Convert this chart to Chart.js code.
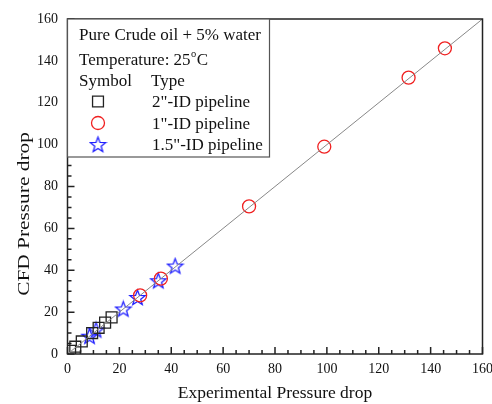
<!DOCTYPE html>
<html>
<head>
<meta charset="utf-8">
<script src="https://cdn.jsdelivr.net/npm/chart.js@4"></script>
<style>
  body { margin: 0; background: #fff; }
</style>
</head>
<body>
<canvas id="graficoPressao" width="492" height="404"></canvas>
<script>
// experimental vs CFD pressure drop, one pair of arrays per pipeline
const exp2in = [1, 3, 5.5, 9.5, 12, 14.5, 17];
const cfd2in = [1.5, 3.5, 6, 10, 12.5, 15, 17.5];
const exp1in = [28, 36, 70, 99, 131.5, 145.5];
const cfd1in = [28, 36, 70.5, 99, 132, 146];
const exp15in = [8.5, 11, 21.5, 27, 35, 41.5];
const cfd15in = [8.5, 11.5, 21.5, 27, 35, 42];
const linhaIgual = [0, 160];
const eixoMin = 0, eixoMax = 160, passoMaior = 20, passoMenor = 5;

const fonte = 'Liberation Serif, Times New Roman, serif';

function pares(xs, ys) {
  return xs.map((x, i) => ({ x: x, y: ys[i] }));
}

// five point star used as marker
function estrela(raio, cor) {
  const c = document.createElement('canvas');
  const lado = Math.ceil(raio * 2 + 3);
  c.width = lado; c.height = lado;
  const ctx = c.getContext('2d');
  const cx = lado / 2, cy = lado / 2 + raio * 0.08;
  ctx.beginPath();
  for (let i = 0; i < 10; i++) {
    const r = i % 2 === 0 ? raio : raio * 0.42;
    const a = -Math.PI / 2 + i * Math.PI / 5;
    const px = cx + r * Math.cos(a), py = cy + r * Math.sin(a);
    if (i === 0) ctx.moveTo(px, py); else ctx.lineTo(px, py);
  }
  ctx.closePath();
  ctx.strokeStyle = cor;
  ctx.lineWidth = 1.3;
  ctx.stroke();
  return c;
}
const marcaEstrela = estrela(8, '#1f1fff');

// frame and inward ticks on bottom and left
const moldura = {
  id: 'moldura',
  afterDatasetsDraw(chart) {
    const ctx = chart.ctx, a = chart.chartArea;
    const sx = chart.scales.x, sy = chart.scales.y;
    ctx.save();
    ctx.strokeStyle = '#222';
    ctx.lineWidth = 1.5;
    for (let v = eixoMin; v <= eixoMax; v += passoMenor) {
      const len = v % passoMaior === 0 ? 7 : 4;
      const px = sx.getPixelForValue(v);
      const py = sy.getPixelForValue(v);
      ctx.beginPath();
      ctx.moveTo(px, a.bottom); ctx.lineTo(px, a.bottom - len);
      ctx.moveTo(a.left, py); ctx.lineTo(a.left + len, py);
      ctx.stroke();
    }
    ctx.strokeRect(a.left, a.top, a.right - a.left, a.bottom - a.top);

    // y axis title, set a little below the middle of the axis
    ctx.fillStyle = '#111';
    ctx.font = '17.5px ' + fonte;
    ctx.textAlign = 'center';
    ctx.textBaseline = 'middle';
    ctx.translate(24, 214);
    ctx.rotate(-Math.PI / 2);
    ctx.scale(1.22, 1);
    ctx.fillText('CFD Pressure drop', 0, 0);
    ctx.restore();
  }
};

function marcador(ctx, ds, mx, my) {
  if (typeof ds.pointStyle !== 'string') {
    const img = ds.pointStyle;
    ctx.drawImage(img, mx - img.width / 2, my - img.height / 2);
    return;
  }
  ctx.strokeStyle = ds.borderColor;
  ctx.lineWidth = ds.borderWidth;
  ctx.beginPath();
  if (ds.pointStyle === 'circle') {
    ctx.arc(mx, my, ds.pointRadius, 0, Math.PI * 2);
  } else {
    const s = ds.pointRadius * Math.SQRT1_2;
    ctx.rect(mx - s, my - s, 2 * s, 2 * s);
  }
  ctx.stroke();
}

// legend box in the upper left corner
const legenda = {
  id: 'legenda',
  afterDraw(chart) {
    const ctx = chart.ctx, a = chart.chartArea;
    const x0 = a.left, y0 = a.top, w = 202, h = 138;
    ctx.save();
    ctx.fillStyle = '#fff';
    ctx.fillRect(x0, y0, w, h);
    ctx.strokeStyle = '#555';
    ctx.lineWidth = 1.2;
    ctx.strokeRect(x0, y0, w, h);

    ctx.fillStyle = '#111';
    ctx.font = '17px ' + fonte;
    ctx.textBaseline = 'alphabetic';
    ctx.textAlign = 'left';
    const tx = x0 + 11.5;
    ctx.fillText('Pure Crude oil + 5% water', tx, y0 + 21);
    const t = 'Temperature: 25';
    ctx.fillText(t, tx, y0 + 46);
    const wt = ctx.measureText(t).width;
    ctx.font = '10.5px ' + fonte;
    ctx.fillText('o', tx + wt + 0.5, y0 + 38);
    const wo = ctx.measureText('o').width;
    ctx.font = '17px ' + fonte;
    ctx.fillText('C', tx + wt + wo + 1, y0 + 46);
    ctx.fillText('Symbol', tx, y0 + 67);
    ctx.fillText('Type', x0 + 83.5, y0 + 67);

    const linhas = ['2"-ID pipeline', '1"-ID pipeline', '1.5"-ID pipeline'];
    const mx = x0 + 30.5;
    linhas.forEach((txt, i) => {
      const yb = y0 + 88 + i * 21.5;
      ctx.fillStyle = '#111';
      ctx.fillText(txt, x0 + 84.5, yb);
      marcador(ctx, chart.data.datasets[i + 1], mx, yb - 5.5);
    });
    ctx.restore();
  }
};

new Chart(document.getElementById('graficoPressao'), {
  type: 'scatter',
  data: {
    datasets: [
      {
        type: 'line',
        data: pares(linhaIgual, linhaIgual),
        borderColor: '#888',
        borderWidth: 1,
        pointRadius: 0
      },
      {
        data: pares(exp2in, cfd2in),
        pointStyle: 'rect',
        pointRadius: 7.7,
        borderColor: '#222',
        backgroundColor: 'rgba(0,0,0,0)',
        borderWidth: 1.3
      },
      {
        data: pares(exp1in, cfd1in),
        pointStyle: 'circle',
        pointRadius: 6.5,
        borderColor: '#f02020',
        backgroundColor: 'rgba(0,0,0,0)',
        borderWidth: 1.3
      },
      {
        data: pares(exp15in, cfd15in),
        pointStyle: marcaEstrela,
        pointRadius: 8,
        borderColor: '#1f1fff',
        backgroundColor: 'rgba(0,0,0,0)',
        borderWidth: 1.3
      }
    ]
  },
  options: {
    responsive: false,
    animation: false,
    layout: { padding: { top: 19, right: 9.5, left: 0, bottom: 0 } },
    plugins: {
      legend: { display: false },
      tooltip: { enabled: false }
    },
    scales: {
      x: {
        type: 'linear',
        min: eixoMin,
        max: eixoMax,
        afterFit(scale) { scale.height = 50; scale.paddingRight = 0; },
        ticks: { stepSize: passoMaior, color: '#111', padding: 7, font: { family: fonte, size: 14 } },
        grid: { display: false, drawTicks: false, tickLength: 0 },
        border: { display: false },
        title: {
          display: true,
          text: 'Experimental Pressure drop',
          color: '#111',
          padding: { top: 0, bottom: 0 },
          font: { family: fonte, size: 17.5 }
        }
      },
      y: {
        type: 'linear',
        min: eixoMin,
        max: eixoMax,
        afterFit(scale) { scale.width = 67.5; },
        ticks: { stepSize: passoMaior, color: '#111', padding: 9.5, font: { family: fonte, size: 14 } },
        grid: { display: false, drawTicks: false, tickLength: 0 },
        border: { display: false },
        title: { display: false }
      }
    }
  },
  plugins: [moldura, legenda]
});
</script>
</body>
</html>
